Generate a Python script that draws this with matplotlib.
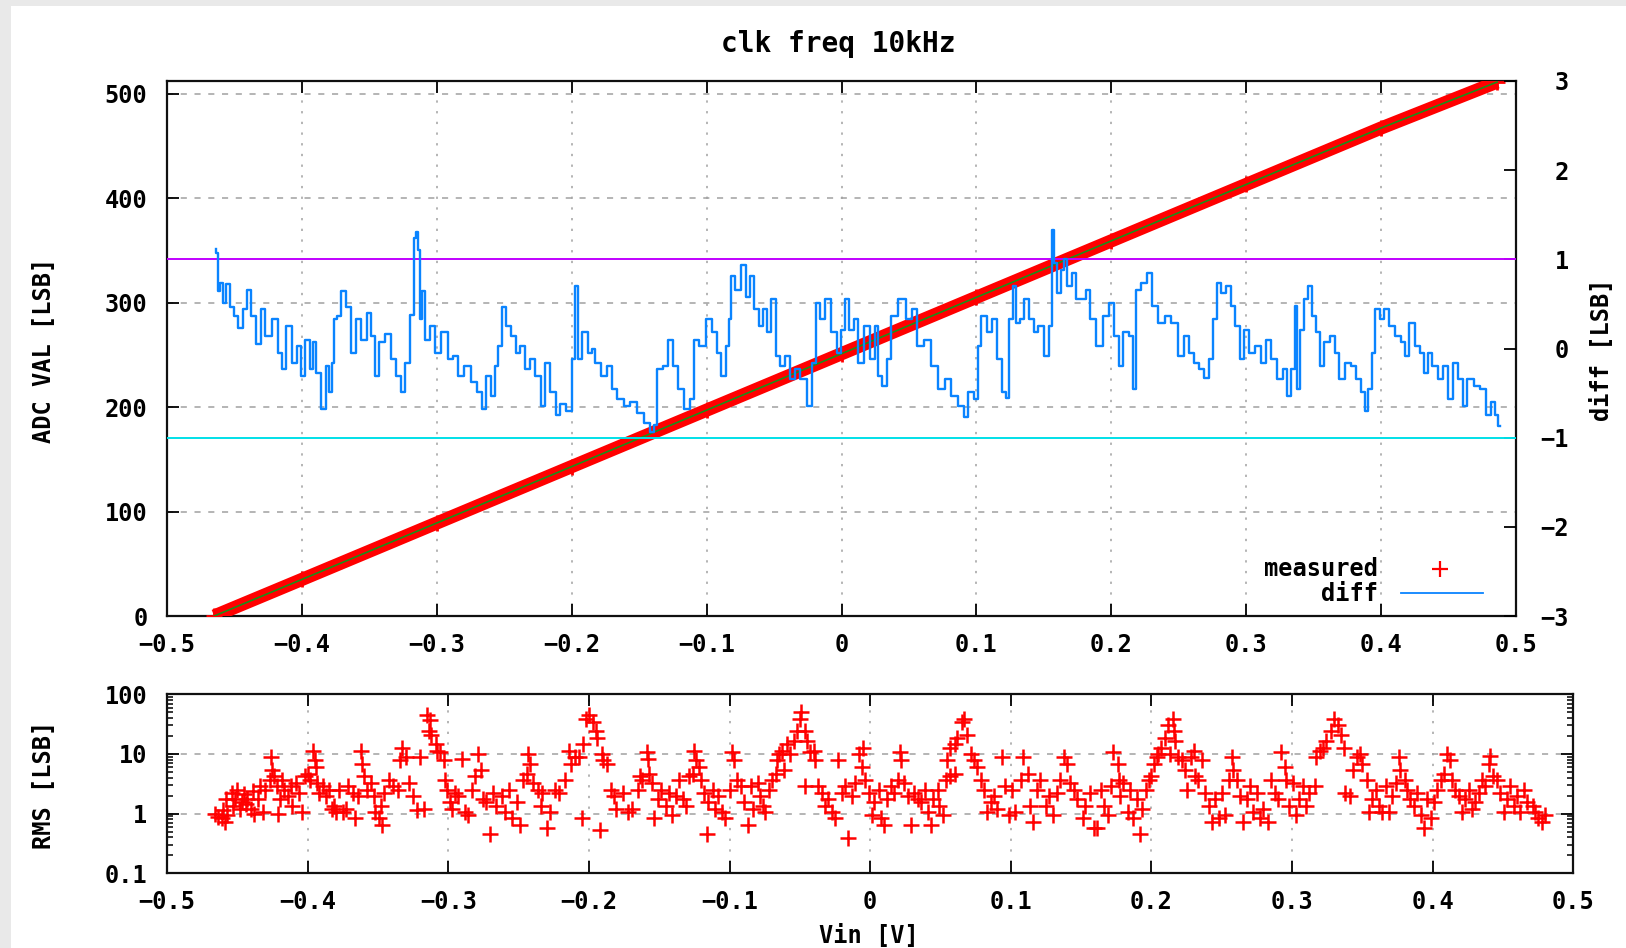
import matplotlib
matplotlib.use("Agg")
import matplotlib.pyplot as plt
from matplotlib.lines import Line2D
from matplotlib.patches import Rectangle
from matplotlib.ticker import LogLocator, NullFormatter

# ---- data ----
TITLE = "clk freq 10kHz"

X_TICKS = [-0.5, -0.4, -0.3, -0.2, -0.1, 0.0, 0.1, 0.2, 0.3, 0.4, 0.5]
X_TICK_LABELS = ["\u22120.5", "\u22120.4", "\u22120.3", "\u22120.2", "\u22120.1", "0",
                 "0.1", "0.2", "0.3", "0.4", "0.5"]
ADC_TICKS = [0, 100, 200, 300, 400, 500]
DIFF_TICKS = [-3, -2, -1, 0, 1, 2, 3]
DIFF_TICK_LABELS = ["\u22123", "\u22122", "\u22121", "0", "1", "2", "3"]
RMS_TICKS = [0.1, 1, 10, 100]
RMS_TICK_LABELS = ["0.1", "1", "10", "100"]

# measured ADC code vs input voltage
MEAS_VIN = [-0.465, -0.4, -0.3, -0.2, -0.1, 0.0, 0.1, 0.2, 0.3, 0.4, 0.486]
MEAS_ADC = [0, 35, 89, 143, 197, 251, 305, 359, 413, 467, 511]

# diff trace (right axis)
DIFF_VIN = [
    -0.464, -0.463, -0.462, -0.460, -0.457, -0.455, -0.452, -0.448, -0.446, -0.442,
    -0.440, -0.436, -0.432, -0.429, -0.425, -0.420, -0.416, -0.414, -0.409, -0.406,
    -0.402, -0.400, -0.396, -0.392, -0.391, -0.388, -0.384, -0.381, -0.379, -0.377,
    -0.375, -0.373, -0.369, -0.365, -0.362, -0.358, -0.354, -0.350, -0.347, -0.344,
    -0.341, -0.336, -0.332, -0.328, -0.325, -0.322, -0.318, -0.316, -0.315, -0.313,
    -0.312, -0.310, -0.307, -0.303, -0.300, -0.294, -0.290, -0.286, -0.282, -0.277,
    -0.273, -0.268, -0.265, -0.262, -0.258, -0.256, -0.253, -0.251, -0.247, -0.243,
    -0.240, -0.236, -0.233, -0.229, -0.225, -0.221, -0.218, -0.214, -0.210, -0.207,
    -0.201, -0.199, -0.196, -0.194, -0.190, -0.186, -0.184, -0.181, -0.176, -0.171,
    -0.169, -0.164, -0.159, -0.154, -0.149, -0.144, -0.140, -0.138, -0.135, -0.130,
    -0.127, -0.123, -0.119, -0.114, -0.110, -0.108, -0.103, -0.098, -0.094, -0.091,
    -0.087, -0.084, -0.083, -0.081, -0.077, -0.072, -0.070, -0.066, -0.063, -0.060,
    -0.056, -0.054, -0.050, -0.047, -0.044, -0.040, -0.036, -0.033, -0.028, -0.023,
    -0.020, -0.018, -0.014, -0.010, -0.005, -0.002, 0.001, 0.004, 0.007, 0.011,
    0.014, 0.019, 0.023, 0.026, 0.028, 0.032, 0.035, 0.039, 0.045, 0.050,
    0.054, 0.058, 0.064, 0.069, 0.074, 0.079, 0.084, 0.089, 0.092, 0.096,
    0.100, 0.102, 0.105, 0.110, 0.113, 0.117, 0.121, 0.123, 0.126, 0.128,
    0.131, 0.133, 0.137, 0.141, 0.144, 0.148, 0.152, 0.155, 0.157, 0.158,
    0.161, 0.164, 0.166, 0.169, 0.172, 0.175, 0.180, 0.182, 0.186, 0.191,
    0.196, 0.200, 0.204, 0.207, 0.211, 0.215, 0.217, 0.220, 0.224, 0.229,
    0.232, 0.237, 0.242, 0.247, 0.252, 0.256, 0.259, 0.263, 0.267, 0.271,
    0.274, 0.277, 0.279, 0.283, 0.287, 0.290, 0.294, 0.297, 0.300, 0.304,
    0.309, 0.313, 0.316, 0.321, 0.325, 0.329, 0.331, 0.335, 0.337, 0.339,
    0.341, 0.344, 0.347, 0.350, 0.354, 0.356, 0.360, 0.364, 0.367, 0.371,
    0.375, 0.380, 0.383, 0.387, 0.389, 0.392, 0.394, 0.397, 0.401, 0.404,
    0.408, 0.412, 0.417, 0.419, 0.423, 0.427, 0.431, 0.433, 0.436, 0.440,
    0.444, 0.448, 0.451, 0.455, 0.459, 0.462, 0.466, 0.471, 0.476, 0.480,
    0.483, 0.486, 0.488,
]
DIFF_VAL = [
    1.12, 1.07, 0.64, 0.73, 0.51, 0.72, 0.46, 0.36, 0.23, 0.44,
    0.66, 0.36, 0.05, 0.44, 0.14, 0.33, -0.05, -0.23, 0.25, -0.16,
    0.03, -0.31, 0.10, -0.23, 0.07, -0.27, -0.68, -0.20, -0.49, -0.16,
    0.33, 0.36, 0.64, 0.46, -0.05, 0.33, 0.10, 0.40, 0.14, -0.31,
    0.07, 0.16, -0.12, -0.31, -0.49, -0.16, 0.38, 1.24, 1.31, 1.11,
    0.33, 0.64, 0.10, 0.25, -0.05, 0.18, -0.12, -0.08, -0.31, -0.20,
    -0.38, -0.49, -0.68, -0.31, -0.53, -0.20, 0.03, 0.46, 0.25, 0.14,
    -0.05, 0.03, -0.23, -0.12, -0.31, -0.64, -0.16, -0.49, -0.75, -0.62,
    -0.70, -0.12, 0.70, -0.12, 0.18, -0.05, -0.01, -0.16, -0.31, -0.20,
    -0.45, -0.57, -0.64, -0.60, -0.72, -0.83, -0.94, -0.86, -0.23, -0.20,
    0.10, -0.20, -0.45, -0.68, -0.57, 0.10, 0.03, 0.33, 0.18, -0.05,
    -0.31, 0.03, 0.33, 0.81, 0.66, 0.94, 0.58, 0.81, 0.44, 0.25,
    0.44, 0.18, 0.55, -0.08, -0.20, -0.08, -0.34, -0.23, -0.34, -0.64,
    -0.16, 0.51, 0.33, 0.55, 0.18, -0.05, 0.21, 0.55, 0.21, 0.33,
    -0.16, 0.25, -0.12, 0.25, -0.31, -0.42, -0.12, 0.36, 0.55, 0.33,
    0.44, 0.03, 0.10, -0.20, -0.45, -0.34, -0.53, -0.64, -0.77, -0.49,
    -0.57, 0.03, 0.36, 0.18, 0.33, -0.12, -0.49, -0.55, 0.33, 0.70,
    0.29, 0.33, 0.55, 0.33, 0.18, 0.25, -0.08, 0.25, 1.33, 0.96,
    0.62, 0.88, 1.00, 0.70, 0.85, 0.55, 0.55, 0.66, 0.33, 0.03,
    0.36, 0.51, 0.14, -0.20, 0.18, 0.14, -0.45, 0.66, 0.73, 0.85,
    0.48, 0.29, 0.36, 0.29, -0.08, 0.14, -0.05, -0.16, -0.23, -0.33,
    -0.12, 0.33, 0.73, 0.62, 0.70, 0.48, 0.25, -0.12, 0.21, -0.05,
    0.03, -0.16, 0.10, -0.12, -0.34, -0.23, -0.53, -0.23, 0.48, -0.45,
    0.21, 0.55, 0.70, 0.36, 0.18, -0.20, 0.07, 0.14, -0.05, -0.34,
    -0.16, -0.20, -0.34, -0.49, -0.70, -0.45, -0.05, 0.44, 0.33, 0.44,
    0.25, 0.14, 0.07, -0.08, 0.29, 0.03, -0.05, -0.27, -0.05, -0.20,
    -0.34, -0.20, -0.57, -0.16, -0.34, -0.64, -0.34, -0.42, -0.45, -0.75,
    -0.60, -0.75, -0.87,
]
DIFF_LIMITS = [1, -1]

# RMS per point (bottom panel)
RMS_VIN = [
    -0.466, -0.464, -0.461, -0.459, -0.460, -0.457, -0.458, -0.454, -0.453, -0.452,
    -0.450, -0.448, -0.447, -0.445, -0.444, -0.443, -0.440, -0.439, -0.438, -0.435,
    -0.434, -0.432, -0.430, -0.427, -0.426, -0.425, -0.424, -0.422, -0.420, -0.421,
    -0.418, -0.417, -0.414, -0.412, -0.411, -0.408, -0.406, -0.404, -0.402, -0.400,
    -0.398, -0.396, -0.395, -0.394, -0.393, -0.392, -0.389, -0.387, -0.385, -0.383,
    -0.381, -0.380, -0.378, -0.375, -0.373, -0.371, -0.368, -0.366, -0.364, -0.362,
    -0.361, -0.360, -0.358, -0.355, -0.353, -0.352, -0.349, -0.348, -0.347, -0.346,
    -0.342, -0.339, -0.336, -0.334, -0.333, -0.330, -0.328, -0.325, -0.322, -0.320,
    -0.317, -0.315, -0.313, -0.314, -0.312, -0.309, -0.308, -0.306, -0.303, -0.302,
    -0.301, -0.299, -0.297, -0.295, -0.293, -0.290, -0.288, -0.286, -0.283, -0.281,
    -0.279, -0.277, -0.275, -0.273, -0.270, -0.268, -0.266, -0.262, -0.260, -0.257,
    -0.255, -0.251, -0.249, -0.247, -0.244, -0.243, -0.242, -0.240, -0.236, -0.234,
    -0.233, -0.230, -0.228, -0.224, -0.221, -0.217, -0.214, -0.213, -0.210, -0.207,
    -0.205, -0.204, -0.202, -0.200, -0.197, -0.195, -0.194, -0.191, -0.190, -0.192,
    -0.187, -0.184, -0.182, -0.181, -0.176, -0.172,
    -0.169, -0.165, -0.164, -0.162, -0.159, -0.158, -0.157, -0.155, -0.154, -0.151,
    -0.149, -0.145, -0.143, -0.141, -0.138, -0.136, -0.133, -0.131, -0.129, -0.126,
    -0.125, -0.124, -0.122, -0.120, -0.118, -0.116, -0.115, -0.112, -0.110, -0.108,
    -0.105, -0.103, -0.100, -0.098, -0.097, -0.095, -0.092, -0.090, -0.087, -0.085,
    -0.083, -0.080, -0.078, -0.076, -0.075, -0.072, -0.070, -0.067, -0.066, -0.065,
    -0.063, -0.061, -0.059, -0.057, -0.054, -0.052, -0.050, -0.049, -0.046, -0.045,
    -0.043, -0.040, -0.039, -0.046, -0.037, -0.034, -0.032, -0.030, -0.027, -0.025,
    -0.023, -0.020, -0.018, -0.016, -0.013, -0.011, -0.008, -0.006, -0.005, -0.004,
    -0.001, 0.001, 0.003, 0.006, 0.008, 0.010, 0.012, 0.015, 0.017, 0.020,
    0.021, 0.022, 0.024, 0.027, 0.029, 0.031, 0.034, 0.036, 0.039, 0.041,
    0.043, 0.045, 0.048, 0.049, 0.052, 0.054, 0.055, 0.057, 0.060, 0.062,
    0.065, 0.067, 0.069, 0.072, 0.074, 0.076, 0.079, 0.057, 0.060, 0.081,
    0.083, 0.086, 0.088, 0.090, 0.094, 0.096, 0.099, 0.101, 0.103, 0.107,
    0.109, 0.112, 0.114, 0.116, 0.119, 0.121, 0.125, 0.127, 0.130, 0.133,
    0.135, 0.138, 0.140, 0.142, 0.145, 0.147, 0.151, 0.153, 0.156, 0.159,
    0.161, 0.164, 0.166, 0.169, 0.171, 0.173, 0.176, 0.177, 0.178, 0.180,
    0.183, 0.185, 0.187, 0.190, 0.192, 0.193, 0.196, 0.198, 0.200, 0.202,
    0.204, 0.205, 0.207, 0.210, 0.212, 0.215, 0.216, 0.217, 0.213, 0.219,
    0.222, 0.224, 0.225, 0.228, 0.230, 0.231, 0.233, 0.236, 0.238, 0.241,
    0.243, 0.245, 0.248, 0.250, 0.252, 0.255, 0.257, 0.258, 0.261, 0.263,
    0.265, 0.268, 0.270, 0.272, 0.275, 0.277, 0.279, 0.283, 0.285, 0.288,
    0.290, 0.292, 0.295, 0.296, 0.298, 0.301, 0.303, 0.305, 0.308, 0.310,
    0.312, 0.316, 0.317, 0.320, 0.322, 0.324, 0.328, 0.330, 0.333, 0.335,
    0.337, 0.338, 0.341, 0.343, 0.346, 0.348, 0.350, 0.353, 0.355, 0.357,
    0.360, 0.362, 0.364, 0.367, 0.369, 0.371, 0.374, 0.376, 0.377, 0.380,
    0.382, 0.384, 0.387, 0.389, 0.392, 0.394, 0.396, 0.399, 0.401, 0.403,
    0.406, 0.408, 0.410, 0.412, 0.414, 0.416, 0.419, 0.421, 0.423, 0.426,
    0.428, 0.430, 0.433, 0.435, 0.437, 0.440, 0.441, 0.443, 0.446, 0.448,
    0.451, 0.453, 0.455, 0.458, 0.460, 0.462, 0.465, 0.467, 0.471, 0.473,
    0.475, 0.478, 0.480,
]
RMS_VAL = [
    1.0, 0.88, 0.83, 0.73, 1.13, 0.94, 1.75, 2.2, 1.36, 1.75,
    2.5, 1.2, 1.55, 2.1, 1.45, 1.75, 1.2, 2.4, 1.0, 1.75,
    2.9, 1.06, 2.5, 3.7, 8.8, 5.4, 4.2, 2.9, 1.75, 1.0,
    3.7, 2.5, 2.0, 2.9, 1.36, 3.3, 2.2, 1.06, 4.2, 4.7,
    3.7, 11.3, 7.8, 6.1, 3.3, 2.2, 2.9, 2.0, 2.5, 1.2,
    1.36, 1.06, 2.5, 1.06, 1.2, 2.9, 2.2, 0.83, 2.0, 11.3,
    6.9, 4.2, 2.5, 3.3, 2.0, 1.06, 0.83, 1.36, 0.65, 2.2,
    3.7, 2.9, 2.5, 7.8, 12.8, 8.8, 3.3, 2.0, 1.13, 8.8,
    1.2, 44.5, 37.0, 23.9, 21.1, 14.5, 11.3, 10.6, 7.8, 3.7,
    2.5, 1.55, 1.2, 2.2, 2.0, 8.3, 1.06, 0.94, 2.5, 4.2,
    10.0, 5.4, 1.75, 1.55, 0.45, 2.2, 1.36, 2.0, 1.06, 2.5,
    0.83, 1.55, 0.65, 3.7, 4.7, 10.0, 6.9, 3.3, 2.5, 1.36,
    2.2, 0.57, 1.06, 2.5, 2.2, 3.7, 11.3, 6.9, 8.8, 8.8,
    0.83, 14.5, 39.0, 44.5, 34.7, 23.9, 18.6, 10.0, 7.8, 0.54,
    6.9, 2.5, 2.0, 1.2, 2.2, 1.06,
    1.2, 2.5, 4.2, 3.7, 10.6, 8.3, 4.7, 3.3, 0.83, 1.75,
    2.5, 1.36, 2.2, 0.94, 2.0, 3.7, 1.75, 1.36, 4.2, 4.7,
    11.3, 7.8, 6.1, 3.7, 2.2, 0.45, 1.55, 2.5, 1.2, 2.0,
    1.06, 0.83, 2.5, 10.6, 7.8, 3.7, 2.9, 1.55, 0.65, 2.9,
    1.2, 3.3, 2.0, 1.36, 1.06, 2.5, 3.7, 4.7, 7.8, 10.0,
    11.3, 5.4, 14.5, 10.0, 16.5, 23.9, 39.0, 50.0, 23.9, 16.5,
    10.6, 11.3, 7.8, 2.9, 2.9, 2.2, 1.36, 1.75, 1.06, 0.83,
    7.8, 2.2, 2.9, 0.39, 2.0, 3.3, 10.0, 6.1, 12.8, 3.7,
    2.2, 0.94, 1.55, 2.5, 0.83, 0.65, 1.75, 2.9, 2.2, 3.7,
    10.6, 7.8, 3.3, 2.0, 0.65, 2.2, 1.75, 1.55, 2.5, 1.06,
    0.65, 1.75, 2.5, 1.36, 0.94, 3.7, 7.8, 12.8, 14.5, 18.6,
    34.7, 39.0, 21.1, 10.0, 7.8, 6.1, 3.7, 4.2, 4.7, 2.5,
    1.06, 1.55, 2.0, 1.2, 8.8, 2.9, 0.94, 2.5, 1.06, 3.7,
    8.8, 4.7, 1.36, 0.73, 2.5, 3.7, 1.36, 2.0, 0.94, 2.2,
    3.7, 8.8, 6.9, 3.3, 2.5, 1.75, 0.83, 1.36, 2.2, 0.57,
    0.57, 2.5, 1.36, 0.94, 2.9, 10.6, 6.9, 3.7, 2.0, 3.3,
    1.06, 2.5, 0.83, 1.75, 0.45, 1.2, 2.5, 3.7, 4.2, 6.9,
    8.8, 10.0, 12.8, 18.6, 30.6, 39.0, 23.9, 16.5, 10.0, 8.8,
    7.8, 5.4, 2.5, 8.8, 11.3, 4.2, 3.7, 7.8, 2.2, 1.36,
    0.73, 1.75, 0.83, 2.2, 0.94, 3.7, 8.8, 5.4, 3.7, 2.0,
    0.73, 1.75, 2.9, 1.06, 2.2, 0.83, 1.2, 0.73, 3.7, 2.2,
    1.75, 10.6, 6.1, 3.7, 1.36, 3.3, 0.94, 1.75, 2.9, 1.36,
    2.2, 2.9, 8.8, 11.3, 12.8, 16.5, 23.9, 39.0, 30.6, 21.1,
    12.8, 2.2, 2.0, 5.4, 8.8, 10.0, 6.9, 3.7, 1.06, 1.75,
    2.5, 1.36, 1.06, 2.9, 1.06, 2.0, 3.3, 8.8, 5.4, 3.7,
    2.5, 1.75, 1.36, 2.2, 0.94, 0.57, 1.75, 0.83, 1.55, 2.5,
    3.7, 4.7, 10.0, 7.8, 3.7, 2.5, 2.0, 1.06, 1.75, 2.5,
    1.2, 1.55, 2.2, 3.7, 2.9, 6.9, 9.4, 4.2, 3.7, 2.2,
    1.06, 1.75, 2.9, 1.36, 2.0, 1.06, 2.5, 1.55, 1.36, 1.06,
    0.83, 0.73, 0.94,
]

# ---- figure ----
W, H = 1626, 948
plt.rcParams['font.family'] = ['DejaVu Sans Mono']
plt.rcParams['font.weight'] = 'bold'
FS = 17

fig = plt.figure(figsize=(W / 100, H / 100), dpi=100, facecolor='#e9e9e9')
fig.patches.append(Rectangle((11 / W, 0), 1, 1 - 6 / H, transform=fig.transFigure,
                             facecolor='white', edgecolor='none', zorder=-5))

GRID = '#a0a0a0'
RED = '#ff0000'
BLUE = '#0a84ff'


def style_frame(a):
    for s in a.spines.values():
        s.set_linewidth(1.6)
        s.set_color('#101010')


# top panel
ax = fig.add_axes([167 / W, 1 - 616 / H, 1349 / W, 535 / H])
ax.set_xlim(-0.5, 0.5)
ax.set_ylim(0, 512)
ax.set_xticks(X_TICKS, X_TICK_LABELS)
ax.set_yticks(ADC_TICKS)
ax.tick_params(direction='in', length=8.5, width=1.3, top=True, right=True,
               labelsize=FS, pad=14)
ax.tick_params(axis='x', pad=12)
ax.xaxis.grid(True, color=GRID, lw=1.1, ls=(0, (1.5, 5.5)))
ax.yaxis.grid(True, color=GRID, lw=1.1, ls=(0, (4, 5)))
style_frame(ax)

ax.plot(MEAS_VIN, MEAS_ADC, color=RED, lw=9.5, solid_capstyle='butt',
        marker='+', ms=12, mew=2, zorder=3)
ax.plot(MEAS_VIN, MEAS_ADC, color='#1a8f1a', lw=1.2, zorder=4)

ax2 = ax.twinx()
ax2.set_ylim(-3, 3)
ax2.set_yticks(DIFF_TICKS, DIFF_TICK_LABELS, ha='right')
ax2.tick_params(direction='in', length=8.5, width=1.3, labelsize=FS, pad=38)
for s in ax2.spines.values():
    s.set_visible(False)
ax2.plot(DIFF_VIN, DIFF_VAL, color=BLUE, lw=1.7, drawstyle='steps-mid', zorder=3)
ax2.axhline(DIFF_LIMITS[0], color='#c000ff', lw=1.4, zorder=2)
ax2.axhline(DIFF_LIMITS[1], color='#00e0e8', lw=1.4, zorder=2)

# key, right aligned like gnuplot
ax2.text(0.898, 0.088, 'measured', transform=ax.transAxes, ha='right', va='center',
         fontsize=FS)
ax2.text(0.898, 0.041, 'diff', transform=ax.transAxes, ha='right', va='center',
         fontsize=FS)
ax2.add_line(Line2D([0.944], [0.088], transform=ax.transAxes, marker='+', ms=11,
                    mew=1.6, color=RED, ls='none'))
ax2.add_line(Line2D([0.915, 0.9755], [0.043, 0.043], transform=ax.transAxes,
                    color=BLUE, lw=1.3))

# bottom panel
ax3 = fig.add_axes([167 / W, 1 - 873.3 / H, 1406.3 / W, 179 / H])
ax3.set_xlim(-0.5, 0.5)
ax3.set_yscale('log')
ax3.set_ylim(0.1, 100)
ax3.set_xticks(X_TICKS, X_TICK_LABELS)
ax3.set_yticks(RMS_TICKS, RMS_TICK_LABELS)
ax3.yaxis.set_minor_locator(LogLocator(base=10, subs=range(2, 10)))
ax3.yaxis.set_minor_formatter(NullFormatter())
ax3.tick_params(which='major', direction='in', length=8.5, width=1.3, top=True,
                right=True, labelsize=FS, pad=14)
ax3.tick_params(which='minor', direction='in', length=4.5, width=1.1, right=True)
ax3.tick_params(axis='x', pad=12)
ax3.xaxis.grid(True, color=GRID, lw=1.1, ls=(0, (1.5, 5.5)))
ax3.yaxis.grid(True, which='major', color=GRID, lw=1.1, ls=(0, (4, 5)))
style_frame(ax3)
ax3.plot(RMS_VIN, RMS_VAL, ls='none', marker='+', ms=11, mew=1.8, color=RED)

# labels
fig.text(838 / W, 1 - 44 / H, TITLE, ha='center', va='center', fontsize=20)
fig.text(44 / W, 1 - 350 / H, 'ADC VAL [LSB]', rotation=90, ha='center', va='center',
         fontsize=FS)
fig.text(1602 / W, 1 - 350 / H, 'diff [LSB]', rotation=90, ha='center', va='center',
         fontsize=FS)
fig.text(44 / W, 1 - 785 / H, 'RMS [LSB]', rotation=90, ha='center', va='center',
         fontsize=FS)
fig.text(869 / W, 1 - 936 / H, 'Vin [V]', ha='center', va='center', fontsize=FS)

fig.savefig('out.png', dpi=100, facecolor=fig.get_facecolor())
